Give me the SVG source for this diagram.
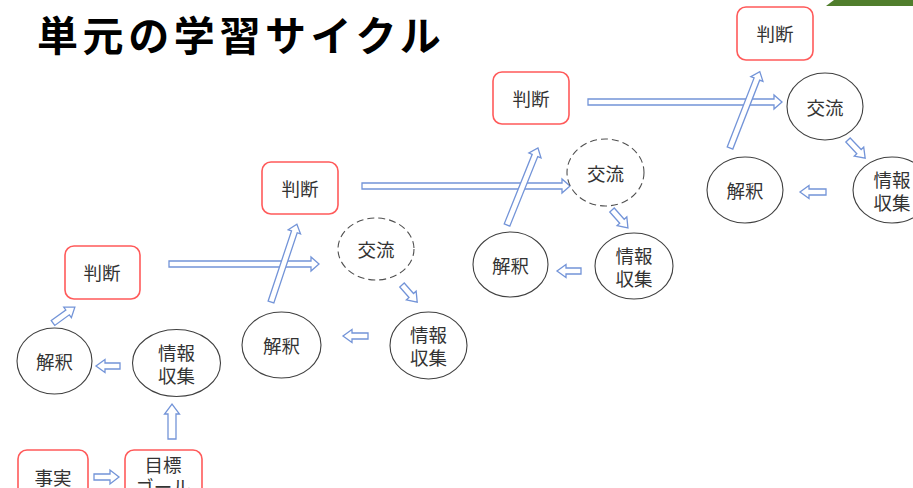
<svg xmlns="http://www.w3.org/2000/svg" width="913" height="488" viewBox="0 0 913 488">
<style>
text{font-family:"Noto Sans CJK JP","Noto Sans",sans-serif;fill:#333;font-size:18.5px;text-anchor:middle;dominant-baseline:central}
.title{font-size:41px;font-weight:bold;fill:#000;text-anchor:start;letter-spacing:4.6px}
.box{fill:#fff;stroke:#ff5a5a;stroke-width:1.6}
.ell{fill:#fff;stroke:#404040;stroke-width:1.1}
.dash{fill:#fff;stroke:#505050;stroke-width:1.1;stroke-dasharray:7 4}
.arr{fill:#fff;stroke:#7394d8;stroke-width:1.3;stroke-linejoin:miter}
</style>
<rect width="913" height="488" fill="#fff"/>
<polygon points="826,6 834,0 913,0 913,6" fill="#507e2c"/>
<text class="title" x="37" y="33">単元の学習サイクル</text>

<g id="connectors">
<path class="arr" transform="translate(94,477)" d="M0,-3 H16 V-7 L25,0 L16,7 V3 H0 Z"/>
<path class="arr" transform="translate(172,439) rotate(-90)" d="M0,-4 H25 V-7.5 L35,0 L25,7.5 V4 H0 Z"/>
<path class="arr" transform="translate(120,366) rotate(180)" d="M0,-3 H15 V-6.5 L24,0 L15,6.5 V3 H0 Z"/>
<path class="arr" transform="translate(53,323) rotate(-36)" d="M0,-3 H18 V-6.5 L27,0 L18,6.5 V3 H0 Z"/>
<path class="arr" transform="translate(169,264) rotate(0)" d="M0,-3 H142 V-7 L150,0 L142,7 V3 H0 Z"/>
<path class="arr" transform="translate(402,285) rotate(48.6)" d="M0,-3 H14 V-6.5 L23,0 L14,6.5 V3 H0 Z"/>
<path class="arr" transform="translate(368,336) rotate(180)" d="M0,-3 H16 V-6.5 L25,0 L16,6.5 V3 H0 Z"/>
<path class="arr" transform="translate(271,302) rotate(-71.6)" d="M0,-3 H74 V-6.5 L82,0 L74,6.5 V3 H0 Z"/>
<path class="arr" transform="translate(362,186)" d="M0,-3 H200 V-7 L208,0 L200,7 V3 H0 Z"/>
<path class="arr" transform="translate(612,210) rotate(48.4)" d="M0,-3 H15 V-6.5 L24,0 L15,6.5 V3 H0 Z"/>
<path class="arr" transform="translate(581,271) rotate(180)" d="M0,-3 H15 V-6.5 L24,0 L15,6.5 V3 H0 Z"/>
<path class="arr" transform="translate(507,225) rotate(-68.1)" d="M0,-3 H75 V-6.5 L83,0 L75,6.5 V3 H0 Z"/>
<path class="arr" transform="translate(588,102)" d="M0,-3 H186 V-7 L194,0 L186,7 V3 H0 Z"/>
<path class="arr" transform="translate(848,140) rotate(46.6)" d="M0,-3 H16 V-6.5 L25,0 L16,6.5 V3 H0 Z"/>
<path class="arr" transform="translate(826,192) rotate(180)" d="M0,-3 H17 V-6.5 L26,0 L17,6.5 V3 H0 Z"/>
<path class="arr" transform="translate(730,148) rotate(-68.7)" d="M0,-3 H74 V-6.5 L82,0 L74,6.5 V3 H0 Z"/>
</g>

<g id="n-jijitsu"><rect class="box" x="18" y="450" width="70" height="60" rx="9"/><text x="53" y="477">事実</text></g>
<g id="n-mokuhyo"><rect class="box" x="125" y="450" width="77" height="60" rx="9"/><text x="163" y="464">目標</text><text x="163" y="486">ゴール</text></g>
<g id="n-joho1"><ellipse class="ell" cx="176.5" cy="363" rx="44" ry="33.5"/><text x="176.5" y="352">情報</text><text x="176.5" y="375">収集</text></g>
<g id="n-kaishaku1"><ellipse class="ell" cx="54.5" cy="361" rx="37.5" ry="33"/><text x="54.5" y="361">解釈</text></g>
<g id="n-handan1"><rect class="box" x="65" y="246" width="75" height="53" rx="9"/><text x="102" y="272">判断</text></g>

<g id="n-koryu2"><ellipse class="dash" cx="376" cy="249" rx="38" ry="31"/><text x="376" y="249">交流</text></g>
<g id="n-joho2"><ellipse class="ell" cx="428.5" cy="345.5" rx="38.5" ry="33.5"/><text x="428.5" y="334">情報</text><text x="428.5" y="357">収集</text></g>
<g id="n-kaishaku2"><ellipse class="ell" cx="281.5" cy="345" rx="39.5" ry="33"/><text x="281.5" y="345">解釈</text></g>
<g id="n-handan2"><rect class="box" x="262" y="162" width="76" height="52" rx="9"/><text x="300" y="188">判断</text></g>

<g id="n-koryu3"><ellipse class="dash" cx="605.5" cy="172.5" rx="38.5" ry="33.5"/><text x="605.5" y="172.5">交流</text></g>
<g id="n-joho3"><ellipse class="ell" cx="634" cy="266" rx="39" ry="33"/><text x="634" y="255">情報</text><text x="634" y="278">収集</text></g>
<g id="n-kaishaku3"><ellipse class="ell" cx="510.5" cy="264.5" rx="37.5" ry="32.5"/><text x="510.5" y="264.5">解釈</text></g>
<g id="n-handan3"><rect class="box" x="493" y="72" width="76" height="52" rx="9"/><text x="531" y="98">判断</text></g>

<g id="n-koryu4"><ellipse class="ell" cx="825" cy="106.5" rx="38" ry="33.5"/><text x="825" y="106.5">交流</text></g>
<g id="n-joho4"><ellipse class="ell" cx="892" cy="190" rx="39" ry="33"/><text x="892" y="179">情報</text><text x="892" y="202">収集</text></g>
<g id="n-kaishaku4"><ellipse class="ell" cx="745" cy="190" rx="38" ry="33"/><text x="745" y="190">解釈</text></g>
<g id="n-handan4"><rect class="box" x="737" y="7" width="76" height="53" rx="9"/><text x="775" y="33">判断</text></g>
</svg>
